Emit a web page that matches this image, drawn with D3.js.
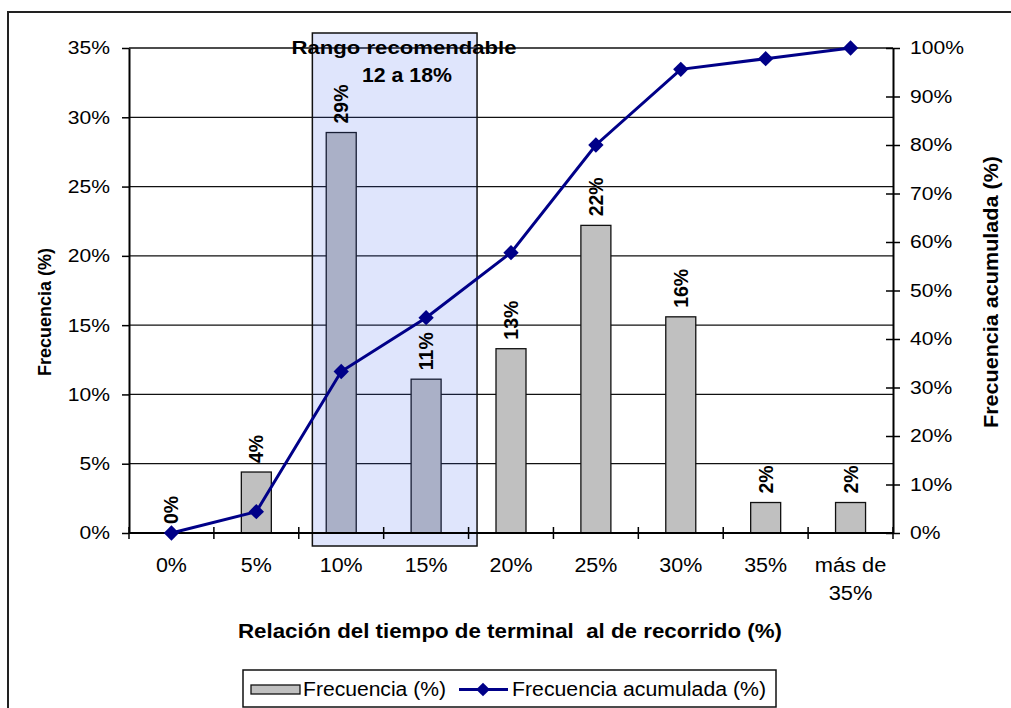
<!DOCTYPE html>
<html>
<head>
<meta charset="utf-8">
<script src="https://cdn.jsdelivr.net/npm/d3@7"></script>
<style>
  body { margin: 0; background: #fff; }
  text { font-family: "Liberation Sans", Arial, sans-serif; }
</style>
</head>
<body>
<script>
// categorias del eje x
const categorias = ["0%", "5%", "10%", "15%", "20%", "25%", "30%", "35%", "más de 35%"];
const frecuencia = [0, 4.4, 28.9, 11.1, 13.3, 22.2, 15.6, 2.2, 2.2];
const acumulada = [0, 4.4, 33.3, 44.4, 57.8, 80.0, 95.6, 97.8, 100];
// etiquetas sobre las barras
const etiquetas = ["0%", "4%", "29%", "11%", "13%", "22%", "16%", "2%", "2%"];
const ticksIzq = [0, 5, 10, 15, 20, 25, 30, 35];
const ticksDer = [0, 10, 20, 30, 40, 50, 60, 70, 80, 90, 100];
// rango recomendable (12 a 18%)
const rango = [12, 18];

const W = 1011, H = 708;
const pL = 129, pR = 893, pT = 48, pB = 533;

const svg = d3.select("body").append("svg")
   .attr("width", W)
   .attr("height", H);

// el grafico original esta estirado en horizontal
function estirar(sel, k) {
  sel.each(function() {
    const t = d3.select(this);
    const w = this.getComputedTextLength();
    t.attr("textLength", w * k).attr("lengthAdjust", "spacingAndGlyphs");
  });
}

// borde exterior
svg.append("rect")
   .attr("x", 8).attr("y", 12)
   .attr("width", W + 20).attr("height", H + 20)
   .attr("fill", "#fff")
   .attr("stroke", "#222")
   .attr("stroke-width", 2);

const x = d3.scaleBand()
   .domain(categorias)
   .range([pL, pR]);
const yL = d3.scaleLinear().domain([0, 35]).range([pB, pT]);
const yR = d3.scaleLinear().domain([0, 100]).range([pB, pT]);
// escala continua del eje x, en % de relacion (5% por categoria)
const xv = d3.scaleLinear().domain([-2.5, 42.5]).range([pL, pR]);

//gridlines
svg.append("g").selectAll("line")
   .data(ticksIzq.slice(1))
   .enter().append("line")
   .attr("x1", pL).attr("x2", pR)
   .attr("y1", d => yL(d)).attr("y2", d => yL(d))
   .attr("stroke", "#111")
   .attr("stroke-width", 1.3);

//barras
const bw = 30;
svg.append("g").selectAll("rect")
   .data(frecuencia)
   .enter().append("rect")
   .attr("x", (d, i) => x(categorias[i]) + x.bandwidth() / 2 - bw / 2)
   .attr("y", d => yL(d))
   .attr("width", bw)
   .attr("height", d => pB - yL(d))
   .attr("fill", "#c0c0c0")
   .attr("stroke", "#111")
   .attr("stroke-width", 1.3);

//rango recomendable
svg.append("rect")
   .attr("x", xv(rango[0] - 3.7))
   .attr("y", 33)
   .attr("width", xv(rango[1]) - xv(rango[0] - 3.7))
   .attr("height", 546 - 33)
   .attr("fill", "rgb(53,91,236)")
   .attr("fill-opacity", 0.16)
   .attr("stroke", "#111")
   .attr("stroke-width", 1.5);

const r1 = svg.append("text")
   .attr("x", 404).attr("y", 54)
   .attr("text-anchor", "middle")
   .style("font-weight", "bold")
   .style("font-size", "19px")
   .text("Rango recomendable");
const r2 = svg.append("text")
   .attr("x", 407).attr("y", 82)
   .attr("text-anchor", "middle")
   .style("font-weight", "bold")
   .style("font-size", "19.5px")
   .text("12 a 18%");
r1.attr("textLength", 225).attr("lengthAdjust", "spacingAndGlyphs");
r2.attr("textLength", 90).attr("lengthAdjust", "spacingAndGlyphs");

//ejes
const axL = svg.append("g")
   .attr("transform", "translate(" + pL + ",0)")
   .call(d3.axisLeft(yL).tickValues(ticksIzq).tickFormat(d => d + "%")
         .tickSizeInner(7).tickSizeOuter(0).tickPadding(12));
const axR = svg.append("g")
   .attr("transform", "translate(" + pR + ",0)")
   .call(d3.axisRight(yR).tickValues(ticksDer).tickFormat(d => d + "%")
         .tickSizeInner(7).tickSizeOuter(0).tickPadding(10));
axR.selectAll(".tick line").attr("x1", -7);

const axB = svg.append("g")
   .attr("transform", "translate(0," + pB + ")");
axB.append("line")
   .attr("x1", pL).attr("x2", pR)
   .attr("stroke", "#000").attr("stroke-width", 2);
axB.selectAll(".tk")
   .data(d3.range(categorias.length + 1))
   .enter().append("line")
   .attr("x1", d => pL + d * x.step()).attr("x2", d => pL + d * x.step())
   .attr("y1", -6).attr("y2", 6)
   .attr("stroke", "#000").attr("stroke-width", 1.5);

[axL, axR].forEach(a => {
  a.select(".domain").attr("stroke", "#000").attr("stroke-width", 2);
  a.selectAll(".tick line").attr("stroke", "#000").attr("stroke-width", 1.5);
  a.selectAll(".tick text")
   .style("font-size", "18.5px")
   .style("font-family", "'Liberation Sans', Arial, sans-serif")
   .attr("fill", "#000");
  estirar(a.selectAll(".tick text"), 1.14);
});

//etiquetas eje x
const xl = svg.append("g").selectAll("text")
   .data(categorias)
   .enter().append("text")
   .attr("text-anchor", "middle")
   .attr("x", d => x(d) + x.bandwidth() / 2)
   .attr("y", 572)
   .style("font-size", "19.5px");
xl.each(function(d) {
  const parts = d === "más de 35%" ? ["más de", "35%"] : [d];
  d3.select(this).selectAll("tspan")
    .data(parts).enter().append("tspan")
    .attr("x", x(d) + x.bandwidth() / 2)
    .attr("dy", (p, i) => i === 0 ? 0 : 28)
    .text(p => p);
});
xl.filter(d => d !== "más de 35%").call(estirar, 1.1);
xl.filter(d => d === "más de 35%").selectAll("tspan").each(function() {
  const w = this.getComputedTextLength();
  d3.select(this).attr("textLength", w * 1.12).attr("lengthAdjust", "spacingAndGlyphs");
});

//etiquetas de barras
svg.append("g").selectAll("text")
   .data(frecuencia)
   .enter().append("text")
   .attr("transform", (d, i) => "translate(" + (x(categorias[i]) + x.bandwidth() / 2 + 7) + "," + (yL(d) - 9) + ") rotate(-90)")
   .style("font-weight", "bold")
   .style("font-size", "19.5px")
   .text((d, i) => etiquetas[i]);

//linea acumulada
const linea = d3.line()
   .x((d, i) => x(categorias[i]) + x.bandwidth() / 2)
   .y(d => yR(d));
svg.append("path")
   .datum(acumulada)
   .attr("d", linea)
   .attr("fill", "none")
   .attr("stroke", "#000088")
   .attr("stroke-width", 3);
svg.append("g").selectAll("path")
   .data(acumulada)
   .enter().append("path")
   .attr("d", d3.symbol(d3.symbolDiamond2, 150))
   .attr("transform", (d, i) => "translate(" + (x(categorias[i]) + x.bandwidth() / 2) + "," + yR(d) + ")")
   .attr("fill", "#000088");

//titulos de ejes
svg.append("text")
   .attr("x", 510).attr("y", 638)
   .attr("text-anchor", "middle")
   .attr("textLength", 544)
   .attr("lengthAdjust", "spacingAndGlyphs")
   .style("font-weight", "bold")
   .style("font-size", "19.5px")
   .style("white-space", "pre")
   .text("Relación del tiempo de terminal  al de recorrido (%)");
svg.append("text")
   .attr("transform", "translate(51,312) rotate(-90)")
   .attr("text-anchor", "middle")
   .style("font-weight", "bold")
   .style("font-size", "18px")
   .text("Frecuencia (%)");
svg.append("text")
   .attr("transform", "translate(998,292) rotate(-90)")
   .attr("text-anchor", "middle")
   .attr("textLength", 272)
   .attr("lengthAdjust", "spacingAndGlyphs")
   .style("font-weight", "bold")
   .style("font-size", "20px")
   .text("Frecuencia acumulada (%)");

//leyenda
const lg = svg.append("g");
lg.append("rect")
   .attr("x", 243).attr("y", 670)
   .attr("width", 533).attr("height", 37)
   .attr("fill", "#fff").attr("stroke", "#111").attr("stroke-width", 1.5);
lg.append("rect")
   .attr("x", 251).attr("y", 685)
   .attr("width", 49).attr("height", 9)
   .attr("fill", "#c0c0c0").attr("stroke", "#111").attr("stroke-width", 1.3);
lg.append("text")
   .attr("x", 303).attr("y", 696)
   .attr("textLength", 143)
   .attr("lengthAdjust", "spacingAndGlyphs")
   .style("font-size", "19.5px")
   .text("Frecuencia (%)");
lg.append("line")
   .attr("x1", 459).attr("x2", 508).attr("y1", 689.5).attr("y2", 689.5)
   .attr("stroke", "#000088").attr("stroke-width", 3);
lg.append("path")
   .attr("d", d3.symbol(d3.symbolDiamond2, 120))
   .attr("transform", "translate(483,689.5)")
   .attr("fill", "#000088");
lg.append("text")
   .attr("x", 512).attr("y", 696)
   .attr("textLength", 254)
   .attr("lengthAdjust", "spacingAndGlyphs")
   .style("font-size", "19.5px")
   .text("Frecuencia acumulada (%)");
</script>
</body>
</html>
